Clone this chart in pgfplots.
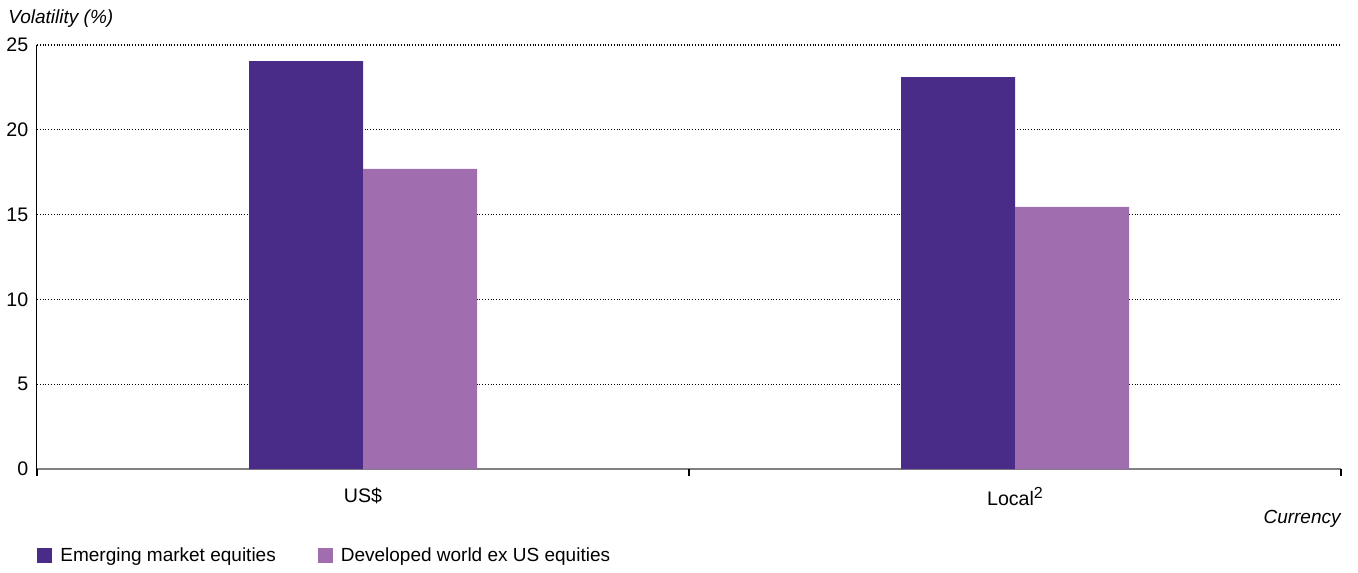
\documentclass[border=0pt]{standalone}
\usepackage{fontspec}
\setmainfont{Liberation Sans}
\usepackage{pgfplots}
\pgfplotsset{compat=1.18}
\definecolor{emc}{RGB}{73,43,136}
\definecolor{dwc}{RGB}{160,110,174}
\begin{document}
\fontsize{9.5pt}{11.5pt}\selectfont
\begin{tikzpicture}
\begin{axis}[
  scale only axis,
  width=652pt, height=212pt,
  xmin=-0.5, xmax=1.5,
  ymin=0, ymax=25,
  ytick={0,5,10,15,20,25},
  xtick={0,1},
  xticklabels={US\$, Local\raisebox{0.6ex}{\fontsize{8pt}{9pt}\selectfont 2}},
  major tick length=0pt,
  extra x ticks={-0.5,0.5,1.5},
  extra x tick labels={},
  extra x tick style={major tick length=3.5pt, tick align=outside, xtick style={draw=black, line width=0.6pt}, grid=none},
  axis x line*=bottom,
  axis y line*=left,
  x axis line style={draw=gray, line width=0.8pt, -},
  y axis line style={draw=black, line width=0.5pt, -},
  ytick style={draw=none},
  ymajorgrids,
  major grid style={densely dotted, black, line width=0.6pt},
  yticklabel style={xshift=-1pt},
  xticklabel style={yshift=-6pt},
  /pgf/number format/assume math mode=true,
  ticklabel style={font=\fontsize{9.8pt}{12pt}\selectfont},
  ybar=0pt, bar width=57pt,
  clip=false,
  legend style={at={(rel axis cs:0,0)}, anchor=north west, yshift=-35pt, xshift=-3pt, draw=none, legend columns=2, font=\fontsize{9.5pt}{11.5pt}\selectfont, /tikz/every even column/.append style={column sep=19pt}},
  legend image code/.code={\fill[#1] (-1pt,-3.75pt) rectangle (6.5pt,3.75pt);},
]
\addplot[fill=emc, draw=none] coordinates {(0,24.05) (1,23.1)};
\addlegendentry{\hspace{2pt}Emerging market equities}
\addplot[fill=dwc, draw=none] coordinates {(0,17.7) (1,15.45)};
\addlegendentry{\hspace{2pt}Developed world ex US equities}
\node[anchor=base west, font=\itshape, inner sep=0pt] at ([xshift=-14.5pt,yshift=10.5pt]rel axis cs:0,1) {Volatility (\%)};
\node[anchor=east, font=\itshape, inner sep=0pt] at ([yshift=-25pt]rel axis cs:1,0) {Currency};
\end{axis}
\path (current axis.south west) ++(-18.5pt,-49pt) coordinate (bbA);
\path (current axis.north east) ++(8.5pt,22.5pt) coordinate (bbB);
\path (bbA) rectangle (bbB);
\end{tikzpicture}
\end{document}
